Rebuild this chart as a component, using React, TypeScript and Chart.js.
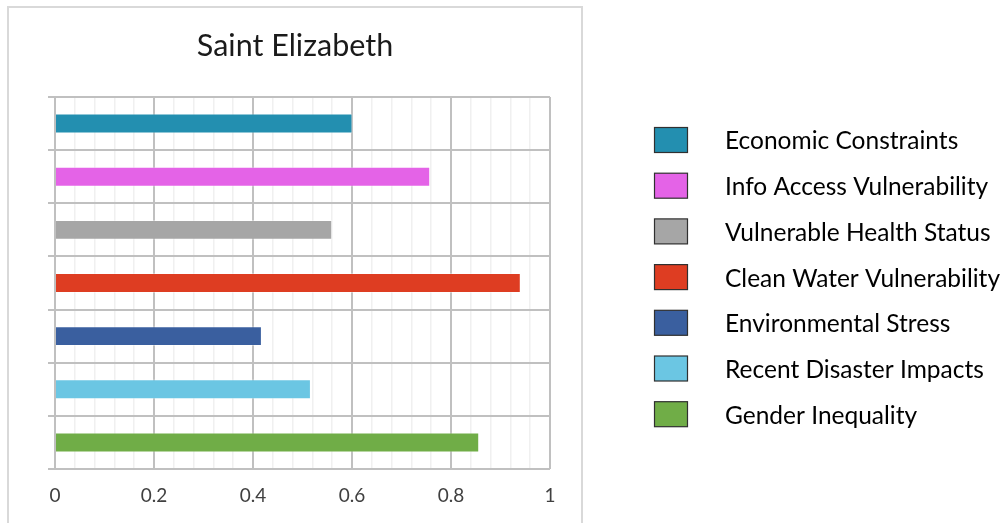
import React, { useEffect, useRef } from "react";
import { Chart, registerables } from "chart.js";

Chart.register(...registerables);

const TITLE = "Saint Elizabeth";
const categories = [
  "Economic Constraints",
  "Info Access Vulnerability",
  "Vulnerable Health Status",
  "Clean Water Vulnerability",
  "Environmental Stress",
  "Recent Disaster Impacts",
  "Gender Inequality",
];
const values = [0.601, 0.758, 0.56, 0.941, 0.418, 0.517, 0.857];
const colors = ["#238fb0", "#e463e7", "#a6a6a6", "#de3d22", "#3a5f9f", "#6bc6e3", "#70ad47"];
const xTickLabels = ["0", "0.2", "0.4", "0.6", "0.8", "1"];

const FONT = "Lato, 'Open Sans', sans-serif";

const decorPlugin = {
  id: "decor",
  beforeDraw(chart: any) {
    const ctx = chart.ctx;
    ctx.save();
    ctx.strokeStyle = "#d9d9d9";
    ctx.lineWidth = 2;
    ctx.strokeRect(8, 7, 574, 540);
    ctx.fillStyle = "#1a1a1a";
    ctx.font = `30.5px ${FONT}`;
    ctx.textAlign = "center";
    ctx.textBaseline = "middle";
    ctx.fillText(TITLE, 295, 46);
    ctx.restore();
  },
  afterDraw(chart: any) {
    const ctx = chart.ctx;
    ctx.save();
    categories.forEach((name, i) => {
      const cy = 140 + i * 45.7;
      ctx.fillStyle = colors[i];
      ctx.fillRect(654.5, cy - 12.5, 33, 25);
      ctx.strokeStyle = "#303030";
      ctx.lineWidth = 1.2;
      ctx.strokeRect(654.5, cy - 12.5, 33, 25);
      ctx.fillStyle = "#000";
      ctx.font = `24.5px ${FONT}`;
      ctx.textAlign = "left";
      ctx.textBaseline = "middle";
      ctx.fillText(name, 725, cy + 1.5);
    });
    ctx.restore();
  },
};

export default function App() {
  const ref = useRef<HTMLCanvasElement | null>(null);
  useEffect(() => {
    if (!ref.current) return;
    const chart = new Chart(ref.current, {
      type: "bar",
      data: {
        labels: categories,
        datasets: [
          {
            data: values,
            backgroundColor: colors,
            borderColor: "rgba(255,255,255,0.35)",
            borderWidth: 1,
            categoryPercentage: 1,
            barPercentage: 0.375,
          },
        ],
      },
      options: {
        indexAxis: "y",
        animation: false,
        responsive: false,
        layout: { padding: { left: 48, top: 97, right: 454, bottom: 0 } },
        plugins: { legend: { display: false }, title: { display: false }, tooltip: { enabled: false } },
        scales: {
          x: {
            type: "linear",
            min: 0,
            max: 1,
            afterFit: (s: any) => {
              s.height = 54;
            },
            ticks: {
              stepSize: 0.04,
              autoSkip: false,
              maxRotation: 0,
              padding: 15,
              color: "#404040",
              font: { family: FONT, size: 19 },
              callback: (_v: any, i: number) => (i % 5 === 0 ? xTickLabels[i / 5] : ""),
            },
            grid: {
              drawTicks: false,
              color: (c: any) => (c.index % 5 === 0 ? "#c0c0c0" : "#f0f0f0"),
              lineWidth: (c: any) => (c.index % 5 === 0 ? 2 : 1.5),
            },
            border: { display: false },
          },
          y: {
            type: "category",
            offset: true,
            afterFit: (s: any) => {
              s.width = 7;
            },
            ticks: { display: false },
            grid: {
              offset: true,
              color: "#c0c0c0",
              lineWidth: 2,
              tickLength: 7,
              drawTicks: true,
            },
            border: { display: false },
          },
        },
      },
      plugins: [decorPlugin],
    });
    return () => chart.destroy();
  }, []);
  return (
    <div style={{ position: "fixed", left: 0, top: 0, width: 1004, height: 523, background: "#fff" }}>
      <canvas ref={ref} width={1004} height={523} style={{ display: "block" }} />
    </div>
  );
}
